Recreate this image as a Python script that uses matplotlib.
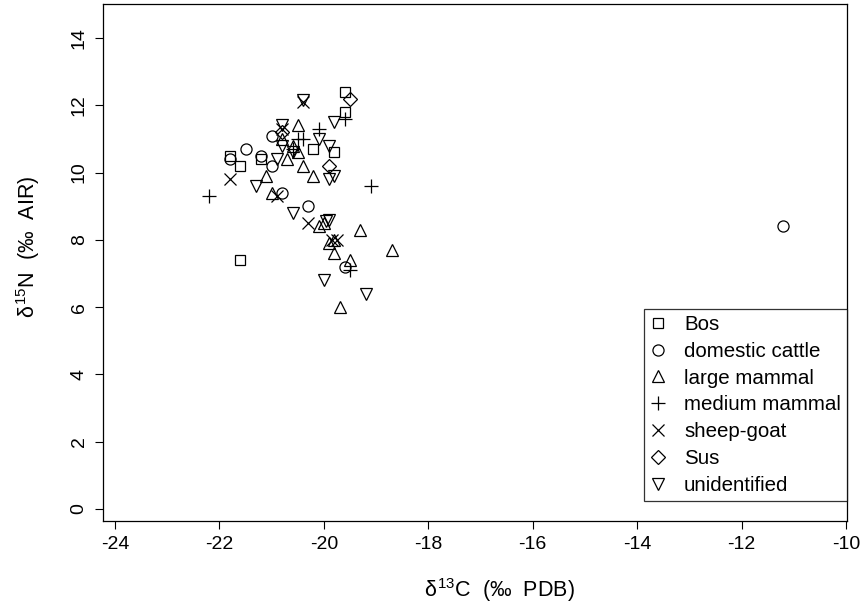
import matplotlib
matplotlib.use("Agg")
import matplotlib.pyplot as plt
from matplotlib.lines import Line2D

plt.rcParams['font.family'] = ['Liberation Sans', 'DejaVu Sans']
plt.rcParams['mathtext.fontset'] = 'custom'
plt.rcParams['mathtext.rm'] = 'Liberation Sans'
plt.rcParams['mathtext.it'] = 'Liberation Sans'

categories = ["Bos", "domestic cattle", "large mammal", "medium mammal",
              "sheep-goat", "Sus", "unidentified"]

bos_x = [-21.8, -21.6, -21.6, -21.2, -20.2, -19.8, -19.6, -19.6]
bos_y = [10.5, 10.2, 7.4, 10.4, 10.7, 10.6, 12.4, 11.8]

cattle_x = [-21.8, -21.5, -21.0, -21.2, -21.0, -20.8, -20.3, -19.6, -11.2]
cattle_y = [10.4, 10.7, 11.1, 10.5, 10.2, 9.4, 9.0, 7.2, 8.4]

large_x = [-20.5, -20.8, -20.7, -21.1, -21.0, -20.4, -20.2, -20.5, -20.6,
           -20.1, -19.3, -18.7, -19.9, -19.8, -19.5, -19.7, -19.8, -20.0]
large_y = [11.4, 11.0, 10.4, 9.9, 9.4, 10.2, 9.9, 10.6, 10.8,
           8.4, 8.3, 7.7, 7.9, 7.6, 7.4, 6.0, 8.0, 8.5]

medium_x = [-22.2, -19.1, -19.6, -20.1, -20.5, -20.4, -20.6, -19.5]
medium_y = [9.3, 9.6, 11.6, 11.3, 11.0, 11.0, 10.7, 7.1]

sheep_x = [-21.8, -20.9, -20.3, -20.4, -20.8, -19.85, -19.75]
sheep_y = [9.8, 9.3, 8.5, 12.1, 11.3, 8.0, 8.0]

sus_x = [-19.5, -19.9, -20.8]
sus_y = [12.2, 10.2, 11.2]

unid_x = [-20.4, -19.8, -20.1, -19.9, -19.9, -19.8, -21.3, -20.9, -20.6,
          -20.0, -19.2, -19.9, -19.95, -20.8, -20.8, -20.6]
unid_y = [12.15, 11.5, 11.0, 10.8, 9.8, 9.9, 9.6, 10.4, 8.8,
          6.8, 6.4, 8.6, 8.55, 10.8, 11.4, 10.6]

x_ticks = [-24, -22, -20, -18, -16, -14, -12, -10]
y_ticks = [0, 2, 4, 6, 8, 10, 12, 14]

x_label = r'$\delta^{13}$C  (‰  PDB)'
y_label = r'$\delta^{15}$N  (‰  AIR)'

series = [(bos_x, bos_y, 's', 7.5), (cattle_x, cattle_y, 'o', 8),
          (large_x, large_y, '^', 9), (medium_x, medium_y, '+', 10),
          (sheep_x, sheep_y, 'x', 8), (sus_x, sus_y, 'D', 7),
          (unid_x, unid_y, 'v', 9)]

W, H = 866, 607
fig = plt.figure(figsize=(W / 100, H / 100), dpi=100)
L, R, T, B = 103, 847, 4, 521
ax = fig.add_axes([L / W, 1 - B / H, (R - L) / W, (B - T) / H])

FS = 14
handles = []
for (xs, ys, m, ms), name in zip(series, categories):
    ax.plot(xs, ys, linestyle='none', marker=m, markersize=ms,
            markerfacecolor='none', markeredgecolor='black',
            markeredgewidth=0.9, color='black')
    handles.append(Line2D([], [], linestyle='none', marker=m, markersize=ms,
                          markerfacecolor='none', markeredgecolor='black',
                          markeredgewidth=0.9, label=name))

# axis limits so that -24 -> px115, -10 -> px846; 0 -> py509, 14 -> py38
xs_per_px = 14 / (846 - 115)
ax.set_xlim(-24 - (115 - L) * xs_per_px, -10 + (R - 846) * xs_per_px)
ys_per_px = 14 / (509 - 38)
ax.set_ylim(0 - (B - 509) * ys_per_px, 14 + (38 - T) * ys_per_px)

ax.set_xticks(x_ticks)
ax.set_yticks(y_ticks)
ax.set_xticklabels([str(v) for v in x_ticks])
ax.set_yticklabels([str(v) for v in y_ticks], rotation=90, va='center')
ax.tick_params(direction='out', length=6, width=0.8, labelsize=FS, pad=5,
               color='black')
for s in ax.spines.values():
    s.set_linewidth(0.9)
    s.set_color('black')

# axis titles, anchored at their start like the reference
fig.text(424 / W, 1 - 590 / H, x_label, fontsize=15.5, ha='left', va='center')
fig.text(28 / W, 1 - 318 / H, y_label, fontsize=15.5, ha='left',
         va='center', rotation=90, rotation_mode='anchor')

LFS = 14.8
leg = ax.legend(handles=handles, loc='lower right', fontsize=LFS,
                frameon=True, fancybox=False, edgecolor='black',
                borderaxespad=0.0, handlelength=0.8, handletextpad=0.85,
                labelspacing=0.38, borderpad=0.3,
                bbox_to_anchor=(1.0, (B - 501) / (B - T)))
leg.get_frame().set_linewidth(0.9)

fig.savefig('out.png', dpi=100)
